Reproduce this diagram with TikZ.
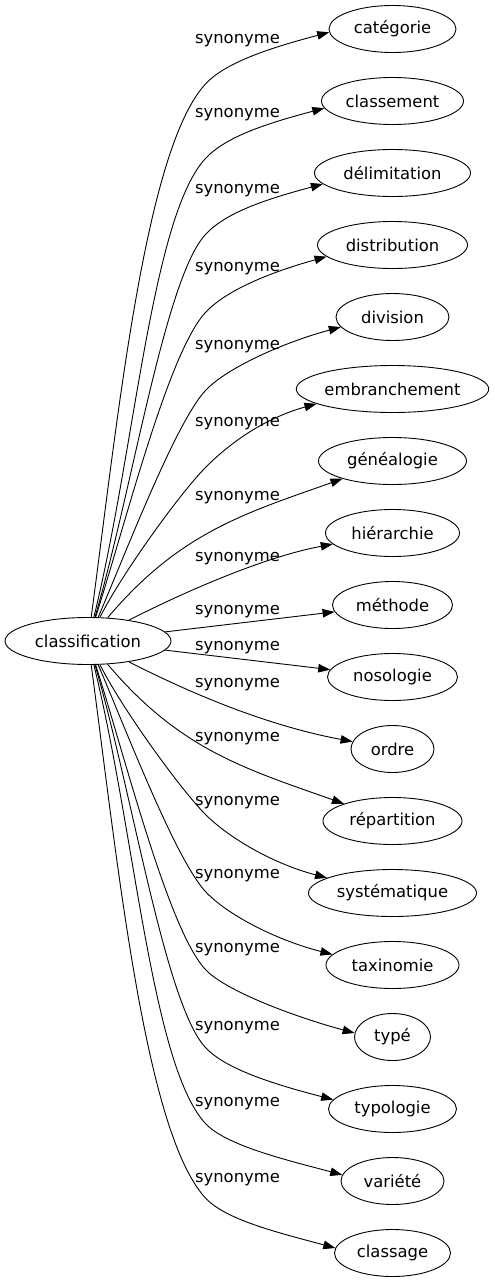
\documentclass[tikz,border=0pt]{standalone}
\usepackage{fontspec}
\setmainfont{DejaVu Sans}
\usetikzlibrary{shapes.geometric, arrows.meta}

\begin{document}
\begin{tikzpicture}[x=1pt, y=-1pt,
    word/.style={ellipse, draw, line width=0.9pt, inner sep=0pt, minimum height=47pt,
        font=\fontsize{16.4}{19}\selectfont},
    rel/.style={inner sep=0pt, anchor=base, font=\fontsize{16.4}{19}\selectfont},
    syn/.style={line width=0.9pt, -{Triangle[length=12pt, width=8.5pt]}}]

    \useasboundingbox (0,0) rectangle (495,1283);

    % Draw the source word
    \node[word, minimum width=166pt] (classif) at (88,641) {classification};

    % Draw the synonyms, one column on the right
    \node[word, minimum width=127pt] (cat) at (392.5,29) {catégorie};
    \node[word, minimum width=142pt] (cls) at (392.5,101) {classement};
    \node[word, minimum width=156pt] (del) at (392.5,173) {délimitation};
    \node[word, minimum width=150pt] (dis) at (392.5,245) {distribution};
    \node[word, minimum width=113pt] (div) at (392.5,317) {division};
    \node[word, minimum width=190pt] (emb) at (392.5,389) {embranchement};
    \node[word, minimum width=148pt] (gen) at (392.5,461) {généalogie};
    \node[word, minimum width=134pt] (hie) at (392.5,533) {hiérarchie};
    \node[word, minimum width=120pt] (met) at (392.5,605) {méthode};
    \node[word, minimum width=130pt] (nos) at (392.5,677) {nosologie};
    \node[word, minimum width=83pt] (ord) at (392.5,749) {ordre};
    \node[word, minimum width=139pt] (rep) at (392.5,821) {répartition};
    \node[word, minimum width=168pt] (sys) at (392.5,893) {systématique};
    \node[word, minimum width=133pt] (tax) at (392.5,965) {taxinomie};
    \node[word, minimum width=76pt] (typ) at (392.5,1037) {typé};
    \node[word, minimum width=128pt] (tpl) at (392.5,1109) {typologie};
    \node[word, minimum width=103pt] (var) at (392.5,1181) {variété};
    \node[word, minimum width=116pt] (clg) at (392.5,1253) {classage};

    % Draw the edges, upper half
    \draw[syn] (classif) .. controls (118,417) and (144.7,151.1) .. (205,84.5)
        .. controls (225,62.3) and (271.5,47.5) .. (cat.183);
    \draw[syn] (classif) .. controls (135,450) and (151.4,218.2) .. (205,159)
        .. controls (225,136.8) and (266.6,123.5) .. (cls.186);
    \draw[syn] (classif) .. controls (132,491) and (164.8,279.4) .. (205,235)
        .. controls (225,212.8) and (265,199.5) .. (del.189);
    \draw[syn] (classif) .. controls (126,522) and (168,353.7) .. (205,313)
        .. controls (225,290.8) and (269.5,272.5) .. (dis.190.5);
    \draw[syn] (classif) .. controls (125.7,553) and (174.9,424.3) .. (205,391)
        .. controls (225,368.8) and (283,342.5) .. (div.191);
    \draw[syn] (classif) .. controls (122.5,572.5) and (180.5,492.9) .. (205,468)
        .. controls (226,446.7) and (260.3,419.5) .. (emb.191.5);
    \draw[syn] (classif) .. controls (180,532) and (246,513) .. (gen);
    \draw[syn] (classif) .. controls (194,587) and (269,556) .. (hie);
    \draw[syn] (classif) -- (met);

    % Draw the edges, lower half
    \draw[syn] (classif) -- (nos);
    \draw[syn] (classif) .. controls (194,695) and (269,726) .. (ord);
    \draw[syn] (classif) .. controls (180,750) and (246,769) .. (rep);
    \draw[syn] (classif) .. controls (122.5,709.5) and (180.5,789.1) .. (205,814)
        .. controls (226,835.3) and (269,862.5) .. (sys.167);
    \draw[syn] (classif) .. controls (125.7,729) and (174.9,857.7) .. (205,891)
        .. controls (225,913.2) and (274,939.5) .. (tax.170.5);
    \draw[syn] (classif) .. controls (126,760) and (168,928.3) .. (205,969)
        .. controls (225,991.2) and (297,1017.5) .. (typ.174);
    \draw[syn] (classif) .. controls (132,791) and (164.8,1002.6) .. (205,1047)
        .. controls (225,1069.2) and (275,1084.5) .. (tpl.171.5);
    \draw[syn] (classif) .. controls (135,832) and (151.4,1063.8) .. (205,1123)
        .. controls (225,1145.2) and (284.6,1159.5) .. (var.173);
    \draw[syn] (classif) .. controls (118,865) and (144.7,1130.9) .. (205,1197.5)
        .. controls (225,1219.7) and (277.8,1232.5) .. (clg.175);

    % Label the edges
    \node[rel] (l0) at (237.5,43) {synonyme};
    \node[rel] (l1) at (237.5,117.5) {synonyme};
    \node[rel] (l2) at (237.5,193.5) {synonyme};
    \node[rel] (l3) at (237.5,271.5) {synonyme};
    \node[rel] (l4) at (237.5,349.5) {synonyme};
    \node[rel] (l5) at (237.5,426.5) {synonyme};
    \node[rel] (l6) at (237.5,500.5) {synonyme};
    \node[rel] (l7) at (237.5,561.5) {synonyme};
    \node[rel] (l8) at (237.5,614.5) {synonyme};
    \node[rel] (l9) at (237.5,650.5) {synonyme};
    \node[rel] (l10) at (237.5,687.5) {synonyme};
    \node[rel] (l11) at (237.5,741.5) {synonyme};
    \node[rel] (l12) at (237.5,805.5) {synonyme};
    \node[rel] (l13) at (237.5,878.5) {synonyme};
    \node[rel] (l14) at (237.5,952.5) {synonyme};
    \node[rel] (l15) at (237.5,1030.5) {synonyme};
    \node[rel] (l16) at (237.5,1106.5) {synonyme};
    \node[rel] (l17) at (237.5,1182.5) {synonyme};

\end{tikzpicture}
\end{document}
